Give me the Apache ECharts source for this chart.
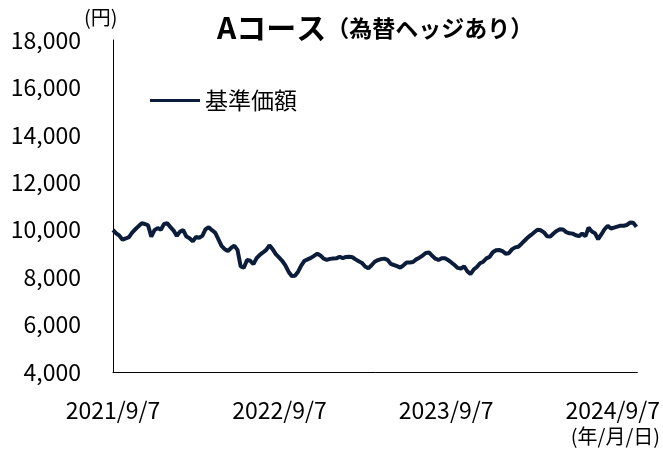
<!DOCTYPE html>
<html>
<head>
<meta charset="utf-8">
<script src="https://cdn.jsdelivr.net/npm/echarts@6/dist/echarts.min.js"></script>
<style>
  html, body { margin: 0; padding: 0; background: #fff; }
  #chart { width: 663px; height: 451px; }
</style>
</head>
<body>
<div id="chart"></div>
<script>
// 週次の基準価額（2021/9/7 から7日おき、グラフから読み取り）
const startDate = '2021/9/7';
const stepDays = 7;
const navValues = [
  9988, 9850, 9750, 9580, 9630, 9690, 9880, 10020, 10150, 10270,
  10240, 10180, 9707, 9980, 10070, 10000, 10240, 10270, 10110, 9960,
  9740, 9920, 9980, 9710, 9640, 9510, 9690, 9660, 9740, 10020,
  10100, 9980, 9880, 9600, 9320, 9180, 9100, 9230, 9330, 9150,
  8450, 8400, 8720, 8690, 8550, 8800, 8940, 9040, 9150, 9340,
  9180, 8970, 8830, 8690, 8500, 8230, 8050, 8060, 8230, 8500,
  8690, 8750, 8810, 8900, 8990, 8910, 8780, 8730, 8770, 8790,
  8793, 8860, 8800, 8850, 8863, 8840, 8750, 8670, 8600, 8450,
  8371, 8500, 8650, 8720, 8760, 8780, 8730, 8560, 8512, 8465,
  8400, 8500, 8620, 8620, 8640, 8750, 8820, 8910, 9020, 9040,
  8900, 8780, 8725, 8793, 8793, 8720, 8620, 8510, 8390, 8360,
  8460, 8250, 8130, 8320, 8430, 8585, 8652, 8790, 8855, 9050,
  9135, 9145, 9100, 8990, 9010, 9170, 9255, 9284, 9410, 9545,
  9680, 9780, 9890, 10000, 9975, 9890, 9720, 9710, 9840, 9950,
  10020, 10010, 9900, 9849, 9835, 9765, 9730, 9840, 9720, 10087,
  9925, 9855, 9600, 9800, 10020, 10165, 10050, 10090, 10130, 10170,
  10165, 10200, 10300, 10290, 10120
];
const xTickLabels = ['2021/9/7', '2022/9/7', '2023/9/7', '2024/9/7'];
const yMin = 4000, yMax = 18000, yStep = 2000;

const daysPerYear = 365.3;
const seriesData = navValues.map((v, i) => [i * stepDays, v]);
const lastDay = (navValues.length - 1) * stepDays;

const FONT = '"Noto Sans CJK JP", "Noto Sans", sans-serif';
const LINE_COLOR = '#0b1d3a';

const chart = echarts.init(document.getElementById('chart'), null, { renderer: 'canvas' });
chart.setOption({
  animation: false,
  backgroundColor: '#fff',
  textStyle: { fontFamily: FONT },
  title: {
    text: '{a|Aコース}{b|（為替ヘッジあり）}',
    left: 212,
    top: 8,
    textStyle: {
      rich: {
        a: { fontFamily: FONT, fontSize: 30, fontWeight: 'bold', color: '#000' },
        b: { fontFamily: FONT, fontSize: 23, fontWeight: 'bold', color: '#000' }
      }
    }
  },
  legend: {
    data: ['基準価額'],
    left: 150,
    top: 89,
    padding: 0,
    icon: 'rect',
    itemWidth: 50,
    itemHeight: 3,
    textStyle: { fontFamily: FONT, fontSize: 23, color: '#000' }
  },
  grid: { left: 113, right: 25, top: 40, bottom: 79, containLabel: false },
  xAxis: {
    type: 'value',
    min: 0,
    max: lastDay + 2,
    interval: daysPerYear,
    axisLine: { show: true, lineStyle: { color: '#000', width: 1 } },
    axisTick: { show: false },
    splitLine: { show: false },
    axisLabel: {
      margin: 27,
      fontFamily: FONT,
      fontSize: 23,
      color: '#000',
      showMaxLabel: false,
      formatter: v => xTickLabels[Math.round(v / daysPerYear)] || ''
    }
  },
  yAxis: {
    type: 'value',
    min: yMin,
    max: yMax,
    interval: yStep,
    axisLine: { show: true, lineStyle: { color: '#000', width: 1 } },
    axisTick: { show: false },
    splitLine: { show: false },
    axisLabel: {
      margin: 32,
      fontFamily: FONT,
      fontSize: 23,
      color: '#000',
      formatter: v => v.toLocaleString('en-US')
    }
  },
  graphic: [
    { type: 'text', left: 84, top: 7, style: { text: '(円)', font: '20px ' + FONT, fill: '#000' } },
    { type: 'text', right: 3, top: 426, style: { text: '(年/月/日)', font: '20px ' + FONT, fill: '#000' } }
  ],
  series: [{
    name: '基準価額',
    type: 'line',
    data: seriesData,
    showSymbol: false,
    symbol: 'none',
    lineStyle: { color: LINE_COLOR, width: 4 },
    itemStyle: { color: LINE_COLOR }
  }]
});
</script>
</body>
</html>
